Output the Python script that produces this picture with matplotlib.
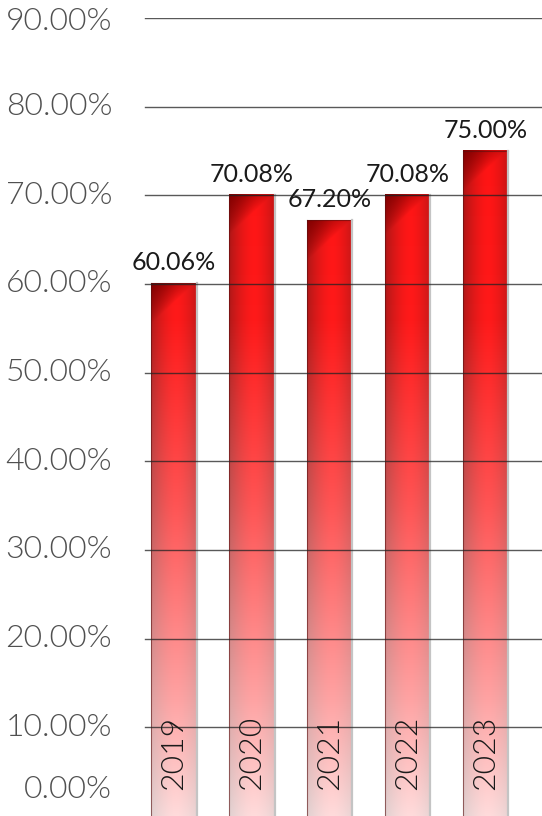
import numpy as np
import matplotlib
matplotlib.use("Agg")
import matplotlib.pyplot as plt
from matplotlib import transforms

years = ["2019", "2020", "2021", "2022", "2023"]
values = [60.06, 70.08, 67.20, 70.08, 75.00]
value_labels = ["60.06%", "70.08%", "67.20%", "70.08%", "75.00%"]
yticks = [0, 10, 20, 30, 40, 50, 60, 70, 80, 90]
ytick_labels = ["0.00%", "10.00%", "20.00%", "30.00%", "40.00%",
                "50.00%", "60.00%", "70.00%", "80.00%", "90.00%"]

FONT = ["Lato", "DejaVu Sans"]

fig = plt.figure(figsize=(5.42, 8.16), dpi=100)
ax = fig.add_axes([0, 0, 1, 0.978])
ax.set_axis_off()

bar_w = 0.58
xlim = (-2.234, 4.724)
ylim = (0, 90)


def interp_color(v, pts):
    vs = [p[0] for p in pts]
    out = []
    for c in range(3):
        out.append(np.interp(v, vs, [p[1][c] for p in pts]))
    return np.stack(out, axis=-1)


center_pts = [(0, (1.0, 0.86, 0.86)), (13, (1.0, 0.64, 0.64)),
              (35, (1.0, 0.33, 0.33)), (56, (1.0, 0.10, 0.10)), (90, (1.0, 0.06, 0.06))]
edge_pts = [(0, (0.88, 0.82, 0.82)), (13, (0.86, 0.64, 0.64)),
            (35, (0.76, 0.34, 0.34)), (56, (0.70, 0.10, 0.10)), (90, (0.66, 0.06, 0.06))]

for i, v in enumerate(values):
    nr, nc = 500, 60
    yy = np.linspace(0, v, nr)[:, None] * np.ones((1, nc))
    u = np.ones((nr, 1)) * np.linspace(0, 1, nc)[None, :]
    c_col = interp_color(yy, center_pts)
    e_col = interp_color(yy, edge_pts)
    t = np.clip(np.abs(u - 0.55) / 0.55, 0, 1) ** 1.6
    col = c_col * (1 - t[..., None]) + e_col * t[..., None]
    dt = v - yy
    w = np.clip(1 - (dt / 4.5 + u * 1.05), 0, 1) ** 0.8
    dark = np.array([0.52, 0.0, 0.0])
    col = col * (1 - w[..., None]) + dark * w[..., None]
    x0 = i - bar_w / 2
    x1 = i + bar_w / 2
    ax.imshow(col, extent=[x0, x1, 0, v], origin="lower", aspect="auto",
              interpolation="bilinear", zorder=2)
    ax.plot([x0, x0], [0, v], color="#5a1010", lw=0.8, alpha=0.6, zorder=2.5)
    ax.plot([x0, x1], [v, v], color="#5a1010", lw=0.8, alpha=0.6, zorder=2.5)
    ax.plot([x1, x1], [0, v], color="#c4c4c4", lw=1.6, zorder=2.5)

for yv in yticks[1:]:
    ax.axhline(yv, xmin=0.268, xmax=1.0, color="#222222", lw=1.0, alpha=0.75, zorder=3)

trans = transforms.blended_transform_factory(ax.transAxes, ax.transData)
for yv, lab in zip(yticks, ytick_labels):
    if yv == 0:
        off = 12
        va = "bottom"
    elif yv == max(yticks):
        off = -4
        va = "center"
    else:
        off = 0
        va = "center"
    ax.annotate(lab, xy=(0.207, yv), xycoords=trans, xytext=(0, off),
                textcoords="offset pixels", ha="right", va=va,
                fontsize=23, color="#505050", family=FONT, fontweight=300)

for i, (v, lab) in enumerate(zip(values, value_labels)):
    ax.annotate(lab, xy=(i, v), xytext=(0, 9), textcoords="offset pixels",
                ha="center", va="bottom", fontsize=18, color="#1a1a1a",
                family=FONT, fontweight=400, zorder=5)

for i, yr in enumerate(years):
    ax.annotate(yr, xy=(i, 0), xytext=(0, 26), textcoords="offset pixels",
                ha="center", va="bottom", rotation=90, fontsize=23,
                color="#1a1a1a", family=FONT, fontweight=300, zorder=5)

ax.set_xlim(*xlim)
ax.set_ylim(*ylim)

fig.savefig("out.png", dpi=100)
